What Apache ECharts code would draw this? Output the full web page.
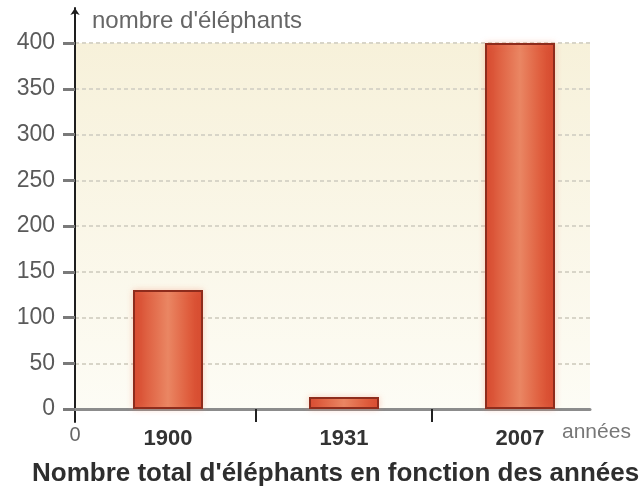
<!DOCTYPE html>
<html>
<head>
<meta charset="utf-8">
<script src="https://cdn.jsdelivr.net/npm/echarts@6/dist/echarts.min.js"></script>
<style>
  html, body { margin: 0; padding: 0; background: #ffffff; }
  #chart { width: 642px; height: 494px; }
</style>
</head>
<body>
<div id="chart"></div>
<script>
// Elephant counts per census year
const years = ['1900', '1931', '2007'];
const elephants = [130, 13, 400];

// Y axis scale and texts
const yMin = 0;
const yMax = 400;
const yStep = 50;
const yName = "nombre d'éléphants";
const xName = 'années';
const chartTitle = "Nombre total d'éléphants en fonction des années";

const FONT = "'Liberation Sans', Arial, sans-serif";

const chart = echarts.init(document.getElementById('chart'), null, { renderer: 'canvas' });

const barFill = new echarts.graphic.LinearGradient(0, 0, 1, 0, [
  { offset: 0, color: '#d5452b' },
  { offset: 0.2, color: '#df6142' },
  { offset: 0.5, color: '#ea8663' },
  { offset: 0.8, color: '#df5d3d' },
  { offset: 1, color: '#d4442a' }
]);

const option = {
  animation: false,
  backgroundColor: '#ffffff',
  title: {
    text: chartTitle,
    left: 27,
    top: 456,
    textStyle: { fontFamily: FONT, fontSize: 26, fontWeight: 'bold', color: '#2e2e2e' }
  },
  grid: [
    // plotting area with cream background, gridlines and value labels
    {
      left: 75, right: 52, top: 43, bottom: 85,
      show: true, borderWidth: 0,
      backgroundColor: new echarts.graphic.LinearGradient(0, 0, 0, 1, [
        { offset: 0, color: '#f7f1da' },
        { offset: 1, color: '#fdfcf5' }
      ])
    },
    // bars and year labels
    { left: 80, right: 34, top: 43, bottom: 85 },
    // long vertical axis line with the arrow
    { left: 75, right: 52, top: 8, bottom: 72 }
  ],
  xAxis: [
    {
      gridIndex: 0, type: 'value', min: 0, max: 1, interval: 1,
      axisLine: { show: true, lineStyle: { color: '#8c8c8c', width: 3 } },
      axisTick: { show: false },
      splitLine: { show: false },
      axisLabel: {
        showMaxLabel: false, margin: 16,
        fontFamily: FONT, fontSize: 20, color: '#666'
      },
      name: xName, nameLocation: 'end', nameGap: -28,
      nameTextStyle: {
        fontFamily: FONT, fontSize: 21, color: '#777',
        align: 'left', verticalAlign: 'top', padding: [13, 0, 0, 0]
      }
    },
    {
      gridIndex: 1, type: 'category', data: years,
      axisLine: { show: false },
      axisTick: { show: false },
      axisLabel: {
        margin: 19, fontFamily: FONT, fontSize: 22, fontWeight: 'bold', color: '#333'
      }
    },
    // separators between the year columns
    {
      gridIndex: 1, type: 'category', position: 'bottom', boundaryGap: false,
      data: ['', '', '', ''],
      axisLine: { show: false },
      axisLabel: { show: false },
      axisTick: {
        show: true, length: 13,
        interval: function (i) { return i === 1 || i === 2; },
        lineStyle: { color: '#222', width: 2 }
      }
    },
    {
      gridIndex: 2, type: 'value', min: 0, max: 1, show: false
    }
  ],
  yAxis: [
    {
      gridIndex: 0, type: 'value', min: yMin, max: yMax, interval: yStep,
      axisLine: { show: false },
      axisTick: { show: true, length: 12, lineStyle: { color: '#7a7a7a', width: 3 } },
      axisLabel: { margin: 20, fontFamily: FONT, fontSize: 23, color: '#5a5a5a' },
      splitLine: { show: true, lineStyle: { color: '#d8d5c8', width: 2, type: [4, 3] } },
      name: yName, nameLocation: 'end', nameGap: 22,
      nameTextStyle: {
        fontFamily: FONT, fontSize: 24, color: '#666',
        align: 'left', verticalAlign: 'middle', padding: [0, 0, 0, 17]
      }
    },
    {
      gridIndex: 1, type: 'value', min: yMin, max: yMax, interval: yStep, show: false
    },
    {
      gridIndex: 2, type: 'value', min: 0, max: 1, show: true,
      axisLine: {
        show: true, symbol: ['none', 'arrow'], symbolSize: [7, 7],
        lineStyle: { color: '#1e1e1e', width: 2 }
      },
      axisTick: { show: false }, axisLabel: { show: false }, splitLine: { show: false }
    }
  ],
  series: [
    {
      type: 'bar',
      xAxisIndex: 1, yAxisIndex: 1,
      data: elephants,
      barWidth: 70,
      itemStyle: {
        color: barFill,
        borderColor: '#8e2c1c',
        borderWidth: 2,
        shadowColor: 'rgba(240, 140, 110, 0.35)',
        shadowBlur: 6
      },
      z: 3
    }
  ]
};

chart.setOption(option);
</script>
</body>
</html>
